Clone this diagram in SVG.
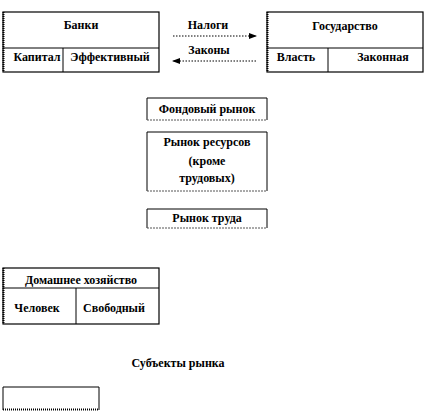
<svg xmlns="http://www.w3.org/2000/svg" width="426" height="411" viewBox="0 0 426 411">
<style>
.t{font-family:"Liberation Serif","Times New Roman",serif;font-weight:bold;font-size:12px;fill:#000;text-anchor:middle}
.b{fill:#fff;stroke:#000;stroke-width:1.2}
.ln{stroke:#000;stroke-width:1;fill:none}
.dl{stroke:#000;stroke-width:2;stroke-dasharray:1 1;fill:none}
.db{stroke:#555;stroke-width:1;stroke-dasharray:2 1;fill:none}
.arr{stroke:#000;stroke-width:1;stroke-dasharray:1.5 1.5;fill:none}
</style>
<defs>
<marker id="ah" markerWidth="8" markerHeight="6" refX="7" refY="3" orient="auto" markerUnits="userSpaceOnUse">
<path d="M0,0 L8,3 L0,6 Z" fill="#000"/>
</marker>
</defs>
<g id="banks">
<rect class="b" x="3" y="12" width="156" height="60"/>
<line class="dl" x1="3.5" y1="12" x2="3.5" y2="72"/>
<line class="ln" x1="3" y1="48" x2="159" y2="48"/>
<line class="ln" x1="63" y1="48" x2="63" y2="72"/>
<text class="t" x="81" y="29">Банки</text>
<text class="t" x="37" y="61">Капитал</text>
<text class="t" x="110" y="61">Эффективный</text>
</g>
<g id="state">
<rect class="b" x="267" y="12" width="156" height="60"/>
<line class="dl" x1="267.5" y1="12" x2="267.5" y2="72"/>
<line class="ln" x1="267" y1="48" x2="423" y2="48"/>
<line class="ln" x1="328" y1="48" x2="328" y2="72"/>
<text class="t" x="345" y="30">Государство</text>
<text class="t" x="296" y="61">Власть</text>
<text class="t" x="383" y="61">Законная</text>
</g>
<g id="connectors">
<line class="arr" x1="173" y1="36" x2="256" y2="36" marker-end="url(#ah)"/>
<line class="arr" x1="256" y1="61" x2="173" y2="61" marker-end="url(#ah)"/>
<text class="t" x="208" y="29">Налоги</text>
<text class="t" x="209" y="54">Законы</text>
</g>
<g id="stock">
<path class="ln" d="M147,120 V98 H267 V120"/>
<line class="db" x1="147" y1="120" x2="267" y2="120"/>
<text class="t" x="207" y="113">Фондовый рынок</text>
</g>
<g id="resources">
<path class="ln" d="M147,191 V132 H267 V191"/>
<line class="db" x1="147" y1="191" x2="267" y2="191"/>
<text class="t" x="207" y="146">Рынок ресурсов</text>
<text class="t" x="207" y="165">(кроме</text>
<text class="t" x="207" y="182">трудовых)</text>
</g>
<g id="labour">
<path class="ln" d="M147,228 V209 H267 V228"/>
<line class="db" x1="147" y1="228" x2="267" y2="228"/>
<text class="t" x="207" y="222">Рынок труда</text>
</g>
<g id="household">
<rect class="b" x="3" y="268" width="156" height="56"/>
<line class="dl" x1="3.5" y1="268" x2="3.5" y2="324"/>
<line class="ln" x1="3" y1="288" x2="159" y2="288"/>
<line class="ln" x1="76" y1="288" x2="76" y2="324"/>
<text class="t" x="81" y="284">Домашнее хозяйство</text>
<text class="t" x="37" y="312">Человек</text>
<text class="t" x="114" y="312">Свободный</text>
</g>
<g id="subjects">
<text class="t" x="178" y="367">Субъекты рынка</text>
</g>
<g id="emptybox">
<path class="ln" d="M3,410 V387 H99 V410"/>
<line class="dl" x1="3" y1="409.5" x2="99" y2="409.5"/>
</g>
</svg>
